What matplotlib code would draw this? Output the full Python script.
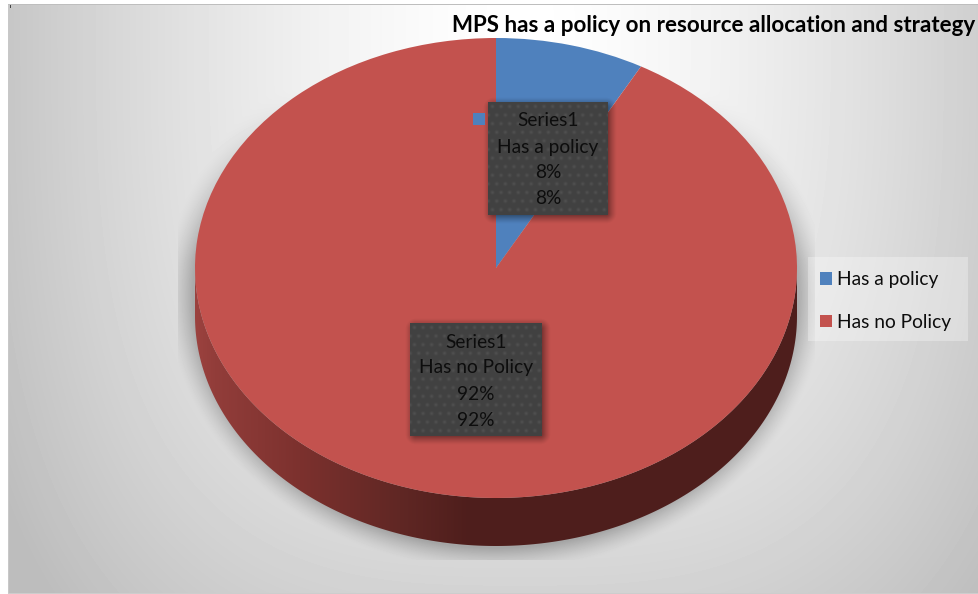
import numpy as np
import matplotlib
matplotlib.use("Agg")
import matplotlib.pyplot as plt
from matplotlib.patches import PathPatch, Rectangle
from matplotlib.path import Path

# Survey result
title = "MPS has a policy on resource allocation and strategy"
series_name = "Series1"
categories = ["Has a policy", "Has no Policy"]
shares = [8, 92]
colors = ["#4f81bd", "#c3524e"]

W, H = 979, 594
plt.rcParams["font.family"] = ["Lato", "DejaVu Sans"]
fig = plt.figure(figsize=(W / 100, H / 100), dpi=100, facecolor="white")

# Full-figure layer measured in pixels, y pointing down
ax = fig.add_axes([0, 0, 1, 1], zorder=1)
ax.set_axis_off()

# Pie geometry: ellipse centre, radii and rim depth
CX, CY, RX, RY, DEPTH = 496, 268, 301, 230, 48

yy, xx = np.mgrid[0:H, 0:W] + 0.5

# Chart area: soft rounded fill, brightest near the top centre
dist = (np.abs((xx - 520) / 470) ** 3 + np.abs((yy - 30) / 616) ** 3) ** (1 / 3)
canvas = 255 - np.minimum(50 * dist ** 1.5, 66)

# Soft drop shadow around the pie, cut off by a rectangle
shadow_r = np.hypot((xx - CX) / (RX + 2), (yy - (CY + DEPTH / 2 + 1)) / (RY + DEPTH / 2 + 1))
edge_px = (shadow_r - 1) * 270
falloff = np.clip(1 - edge_px / 24, 0, 1) ** 1.4
fade_top = np.clip((yy - 90) / 170, 0, 1)
shadow = 0.24 * falloff * fade_top
shadow[(xx < 178) | (xx > 815) | (yy > 560)] = 0
canvas = canvas * (1 - shadow)

canvas[:, :8] = 255
canvas[:5, :] = 255
canvas[4:5, 8:] = 190
canvas[5:, 8:9] = 200
canvas[-1, 8:] = 205
canvas[5:8, 10:11] = 70
ax.imshow(canvas, cmap="gray", vmin=0, vmax=255, extent=(0, W, H, 0),
          aspect="auto", interpolation="nearest", zorder=0)

# Rim of the pie: a horizontal shading clipped to the extruded outline
theta = np.linspace(np.pi, 0, 240)
lower = np.column_stack([CX + RX * np.cos(theta), CY + DEPTH + RY * np.sin(theta)])
upper = np.column_stack([CX + RX * np.cos(theta[::-1]), CY + RY * np.sin(theta[::-1])])
outline = np.vstack([lower, upper, lower[:1]])
rim_path = Path(outline, closed=True)

stops_x = np.array([195, 215, 300, 400, 470, 500, 979]) / W
stops = np.array([[0x9c, 0x42, 0x3f], [0x92, 0x3d, 0x3a], [0x7c, 0x31, 0x2e],
                  [0x60, 0x27, 0x24], [0x4e, 0x1e, 0x1c], [0x4e, 0x1e, 0x1c],
                  [0x4e, 0x1e, 0x1c]]) / 255
u = np.linspace(0, 1, W)
rim_rgb = np.stack([np.interp(u, stops_x, stops[:, i]) for i in range(3)], axis=-1)[None, :, :]
rim = ax.imshow(rim_rgb, extent=(0, W, H, 0), aspect="auto", zorder=1)
clip = PathPatch(rim_path, transform=ax.transData, facecolor="none", edgecolor="none")
ax.add_patch(clip)
rim.set_clip_path(clip)

# Pie top surface in its own stretched axes
ax_pie = fig.add_axes([(CX - RX) / W, 1 - (CY + RY) / H, 2 * RX / W, 2 * RY / H], zorder=2)
wedges, _ = ax_pie.pie(shares, colors=colors, startangle=90, counterclock=False,
                       radius=1, wedgeprops={"linewidth": 0})
ax_pie.set_aspect("auto")
ax_pie.set_xlim(-1, 1)
ax_pie.set_ylim(-1, 1)

# Overlay for the data labels, legend and title
ov = fig.add_axes([0, 0, 1, 1], zorder=3)
ov.set_axis_off()
ov.patch.set_alpha(0)


def dotted_box(x0, x1, y0, y1):
    """Dark label box with a dotted texture and a soft lower-right shadow."""
    pad = 14
    sy, sx = np.mgrid[y0 - pad:y1 + pad, x0 - pad:x1 + pad] + 0.5
    dx = np.maximum(np.maximum(x0 + 6 - sx, sx - (x1 - 2)), 0)
    dy = np.maximum(np.maximum(y0 + 6 - sy, sy - (y1 - 2)), 0)
    alpha = 0.5 * np.clip(1 - np.hypot(dx, dy) / 11, 0, 1) ** 1.3
    sh = np.zeros(sx.shape + (4,))
    sh[..., 3] = alpha
    ov.imshow(sh, extent=(x0 - pad, x1 + pad, y1 + pad, y0 - pad), aspect="auto",
              interpolation="bilinear", zorder=1)

    by, bx = np.mgrid[0:(y1 - y0) * 3, 0:(x1 - x0) * 3] / 3
    step = 8.6
    row = np.floor(by / step)
    ox = (bx + (row % 2) * step / 2) % step - step / 2
    oy = by % step - step / 2
    dots = np.exp(-(ox ** 2 + oy ** 2) / 3.0)
    ov.imshow(0x41 + 0x10 * dots, cmap="gray", vmin=0, vmax=255,
              extent=(x0, x1, y1, y0), aspect="auto", interpolation="antialiased", zorder=2)


def data_label(x0, x1, y0, y1, name, value):
    dotted_box(x0, x1, y0, y1)
    lines = [series_name, name, f"{value}%", f"{value}%"]
    for k, line in enumerate(lines):
        ov.text((x0 + x1) / 2, y0 + 19 + 26 * k, line, ha="center", va="center",
                fontsize=13.8, color="#0d0d0d", zorder=3)


data_label(488, 608, 102, 215, categories[0], shares[0])
data_label(410, 542, 323, 436, categories[1], shares[1])
ov.add_patch(Rectangle((473, 113), 12, 12, facecolor=colors[0], edgecolor="none", zorder=3))

# Legend panel and entries
ov.add_patch(Rectangle((808, 257), 160, 84, facecolor="white", alpha=0.3,
                       edgecolor="none", zorder=1))
legend = fig.legend(wedges, categories, loc="center left",
                    bbox_to_anchor=(820 / W, 1 - 301 / H), frameon=False,
                    fontsize=13.8, labelcolor="#0d0d0d", handlelength=0.63, handleheight=0.63,
                    handletextpad=0.28, labelspacing=1.35, borderpad=0, borderaxespad=0)
legend.set_zorder(5)

ov.text(975, 25, title, ha="right", va="center", fontsize=16.1, fontweight="bold",
        color="#000000", zorder=4)

for a in (ax, ov):
    a.set_xlim(0, W)
    a.set_ylim(H, 0)

fig.savefig("out.png", dpi=100)
